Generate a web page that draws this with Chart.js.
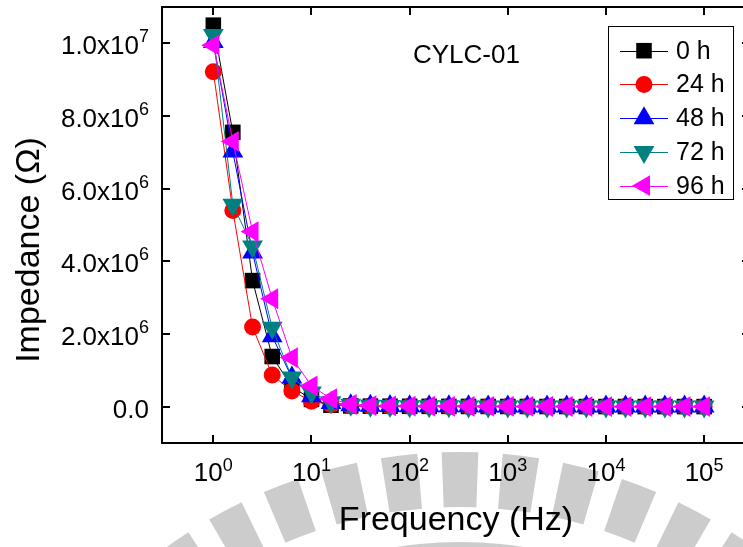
<!DOCTYPE html>
<html>
<head>
<meta charset="utf-8">
<script src="https://cdn.jsdelivr.net/npm/chart.js@4.4.0/dist/chart.umd.min.js"></script>
<style>
html, body { margin: 0; padding: 0; background: #fff; overflow: hidden; }
canvas { display: block; }
</style>
</head>
<body>
<canvas id="chart1" width="743" height="547"></canvas>
<script>
// frequency points (Hz), 5 per decade
const freq = [1, 1.58, 2.51, 3.98, 6.31, 10, 15.8, 25.1, 39.8, 63.1,
  100, 158, 251, 398, 631, 1000, 1580, 2510, 3980, 6310,
  10000, 15800, 25100, 39800, 63100, 100000];

// impedance (ohm)
const z0h = [10500000, 7550000, 3470000, 1380000, 550000, 200000, 40000, 20000, 15000, 12000,
  10000, 9000, 8000, 7000, 6000, 5000, 5000, 4000, 4000, 3000, 3000, 3000, 2000, 2000, 2000, 2000];
const z24h = [9220000, 5400000, 2190000, 870000, 430000, 150000, 50000, 20000, 15000, 12000,
  10000, 9000, 8000, 7000, 6000, 5000, 5000, 4000, 4000, 3000, 3000, 3000, 2000, 2000, 2000, 2000];
const z48h = [10040000, 7020000, 4240000, 1940000, 800000, 290000, 100000, 40000, 25000, 18000,
  14000, 12000, 10000, 9000, 8000, 7000, 6000, 6000, 5000, 5000, 4000, 4000, 4000, 3000, 3000, 3000];
const z72h = [10230000, 5560000, 4410000, 2170000, 800000, 390000, 120000, 50000, 25000, 15000,
  12000, 10000, 9000, 8000, 7000, 6000, 5000, 5000, 4000, 4000, 3000, 3000, 3000, 2000, 2000, 2000];
const z96h = [9950000, 7300000, 4820000, 2970000, 1350000, 570000, 220000, 60000, 30000, 20000,
  15000, 12000, 10000, 9000, 8000, 7000, 6000, 5000, 5000, 4000, 4000, 3000, 3000, 3000, 2000, 2000];

const seriesNames = ['0 h', '24 h', '48 h', '72 h', '96 h'];
const seriesValues = [z0h, z24h, z48h, z72h, z96h];
const seriesColors = ['#000000', '#ff0000', '#0000ff', '#008080', '#ff00ff'];
const seriesStyles = ['rect', 'circle', 'triangle', 'triangle', 'triangle'];
const seriesRotation = [0, 0, 0, 180, -90];
const seriesRadius = [11, 8.5, 12, 12, 12];

const yTicks = [0, 2e6, 4e6, 6e6, 8e6, 1e7];
const yTickBase = ['0.0', '2.0x10', '4.0x10', '6.0x10', '8.0x10', '1.0x10'];
const yTickExp = ['', '6', '6', '6', '6', '7'];
const xTicks = [1, 10, 100, 1000, 10000, 100000];
const xTickExp = ['0', '1', '2', '3', '4', '5'];

// the plot frame runs past the right edge of the picture
const xMin = Math.pow(10, -0.508);
const xMax = Math.pow(10, 5.396);
const rightAxisX = 750;

const FONT = "'Liberation Sans', Arial, sans-serif";

let datasets = seriesNames.map(function(name, i) {
  return {
    label: name,
    data: freq.map((f, k) => ({ x: f, y: seriesValues[i][k] })),
    borderColor: seriesColors[i],
    backgroundColor: seriesColors[i],
    borderWidth: 1,
    pointStyle: seriesStyles[i],
    pointRotation: seriesRotation[i],
    pointRadius: seriesRadius[i],
    pointBackgroundColor: seriesColors[i],
    pointBorderWidth: 0,
    tension: 0,
    clip: { left: 10, top: 10, right: 20, bottom: 10 },
    order: seriesNames.length - i
  };
});

// light grey watermark behind the chart (gear shape)
const watermark = {
  id: 'watermark',
  beforeDraw(chart) {
    const c = chart.ctx;
    const cx = 460, cy = 952;
    c.save();
    c.fillStyle = 'rgb(204,204,204)';
    c.beginPath();
    c.arc(cx, cy, 410, Math.PI, 2 * Math.PI);
    c.arc(cx, cy, 360, 2 * Math.PI, Math.PI, true);
    c.closePath();
    c.fill();
    for (let k = -6; k <= 6; k++) {
      const a = (-90 + k * 7) * Math.PI / 180;
      const w = 2.1 * Math.PI / 180;
      c.beginPath();
      c.arc(cx, cy, 500, a - w, a + w);
      c.arc(cx, cy, 445, a + w, a - w, true);
      c.closePath();
      c.fill();
    }
    c.restore();
  }
};

function supText(c, base, exp, x, y, align, baseSize, expSize, expLift) {
  c.font = baseSize + 'px ' + FONT;
  const wb = c.measureText(base).width;
  c.font = expSize + 'px ' + FONT;
  const we = exp ? c.measureText(exp).width : 0;
  let x0 = x;
  if (align === 'center') x0 = x - (wb + we) / 2;
  if (align === 'right') x0 = x - wb - we;
  c.textAlign = 'left';
  c.textBaseline = 'alphabetic';
  c.font = baseSize + 'px ' + FONT;
  c.fillText(base, x0, y);
  if (exp) {
    c.font = expSize + 'px ' + FONT;
    c.fillText(exp, x0 + wb, y - expLift);
  }
}

const frame = {
  id: 'frame',
  afterDraw(chart) {
    const c = chart.ctx;
    const a = chart.chartArea;
    const xs = chart.scales.x, ys = chart.scales.y;
    c.save();
    c.strokeStyle = '#000';
    c.fillStyle = '#000';
    c.lineWidth = 2;
    c.beginPath();
    c.moveTo(rightAxisX, a.top); c.lineTo(a.left, a.top);
    c.lineTo(a.left, a.bottom); c.lineTo(rightAxisX, a.bottom);
    c.lineTo(rightAxisX, a.top);
    xTicks.forEach(function(v) {
      const px = Math.round(xs.getPixelForValue(v));
      c.moveTo(px, a.bottom); c.lineTo(px, a.bottom - 8);
      c.moveTo(px, a.top); c.lineTo(px, a.top + 8);
    });
    yTicks.forEach(function(v) {
      const py = Math.round(ys.getPixelForValue(v));
      c.moveTo(a.left, py); c.lineTo(a.left + 8, py);
      c.moveTo(rightAxisX, py); c.lineTo(rightAxisX - 8, py);
    });
    c.stroke();

    // tick labels
    yTicks.forEach(function(v, i) {
      const py = ys.getPixelForValue(v);
      supText(c, yTickBase[i], yTickExp[i], a.left - 13, py + 11, 'right', 26, 18, 12);
    });
    xTicks.forEach(function(v, i) {
      const px = xs.getPixelForValue(v);
      supText(c, '10', xTickExp[i], px, 481, 'center', 26, 18, 10);
    });

    // axis titles
    c.textAlign = 'center';
    c.textBaseline = 'alphabetic';
    c.font = '34px ' + FONT;
    c.fillText('Frequency (Hz)', 456, 530);
    c.save();
    c.translate(39, 250);
    c.rotate(-Math.PI / 2);
    c.fillText('Impedance (\u03A9)', 0, 0);
    c.restore();

    // sample label
    c.textAlign = 'left';
    c.font = '26px ' + FONT;
    c.fillText('CYLC-01', 413, 63);

    // legend
    c.fillStyle = '#fff';
    c.fillRect(608, 26, 125, 173);
    c.lineWidth = 1;
    c.strokeStyle = '#000';
    c.strokeRect(608.5, 26.5, 125, 173);
    seriesNames.forEach(function(name, i) {
      const y = 50.7 + i * 33.75;
      c.strokeStyle = seriesColors[i];
      c.lineWidth = 1;
      c.beginPath();
      c.moveTo(620, Math.round(y) + 0.5); c.lineTo(668, Math.round(y) + 0.5);
      c.stroke();
      c.fillStyle = seriesColors[i];
      Chart.helpers.drawPoint(c, {
        pointStyle: seriesStyles[i],
        rotation: seriesRotation[i],
        radius: seriesRadius[i],
        borderWidth: 0
      }, 644, y);
      c.fillStyle = '#000';
      c.font = '25px ' + FONT;
      c.textBaseline = 'middle';
      c.fillText(name, 676, y + 1);
    });
    c.restore();
  }
};

let ctx = document.getElementById('chart1').getContext('2d');
let myChart = new Chart(ctx, {
  type: 'line',
  data: { datasets: datasets },
  options: {
    responsive: false,
    animation: false,
    devicePixelRatio: 1,
    layout: { autoPadding: false, padding: { left: 162, top: 7, right: 0, bottom: 104 } },
    plugins: { legend: { display: false }, tooltip: { enabled: false } },
    scales: {
      x: { type: 'logarithmic', min: xMin, max: xMax, display: false },
      y: { type: 'linear', min: -1e6, max: 1.1e7, display: false }
    }
  },
  plugins: [watermark, frame]
});
</script>
</body>
</html>
